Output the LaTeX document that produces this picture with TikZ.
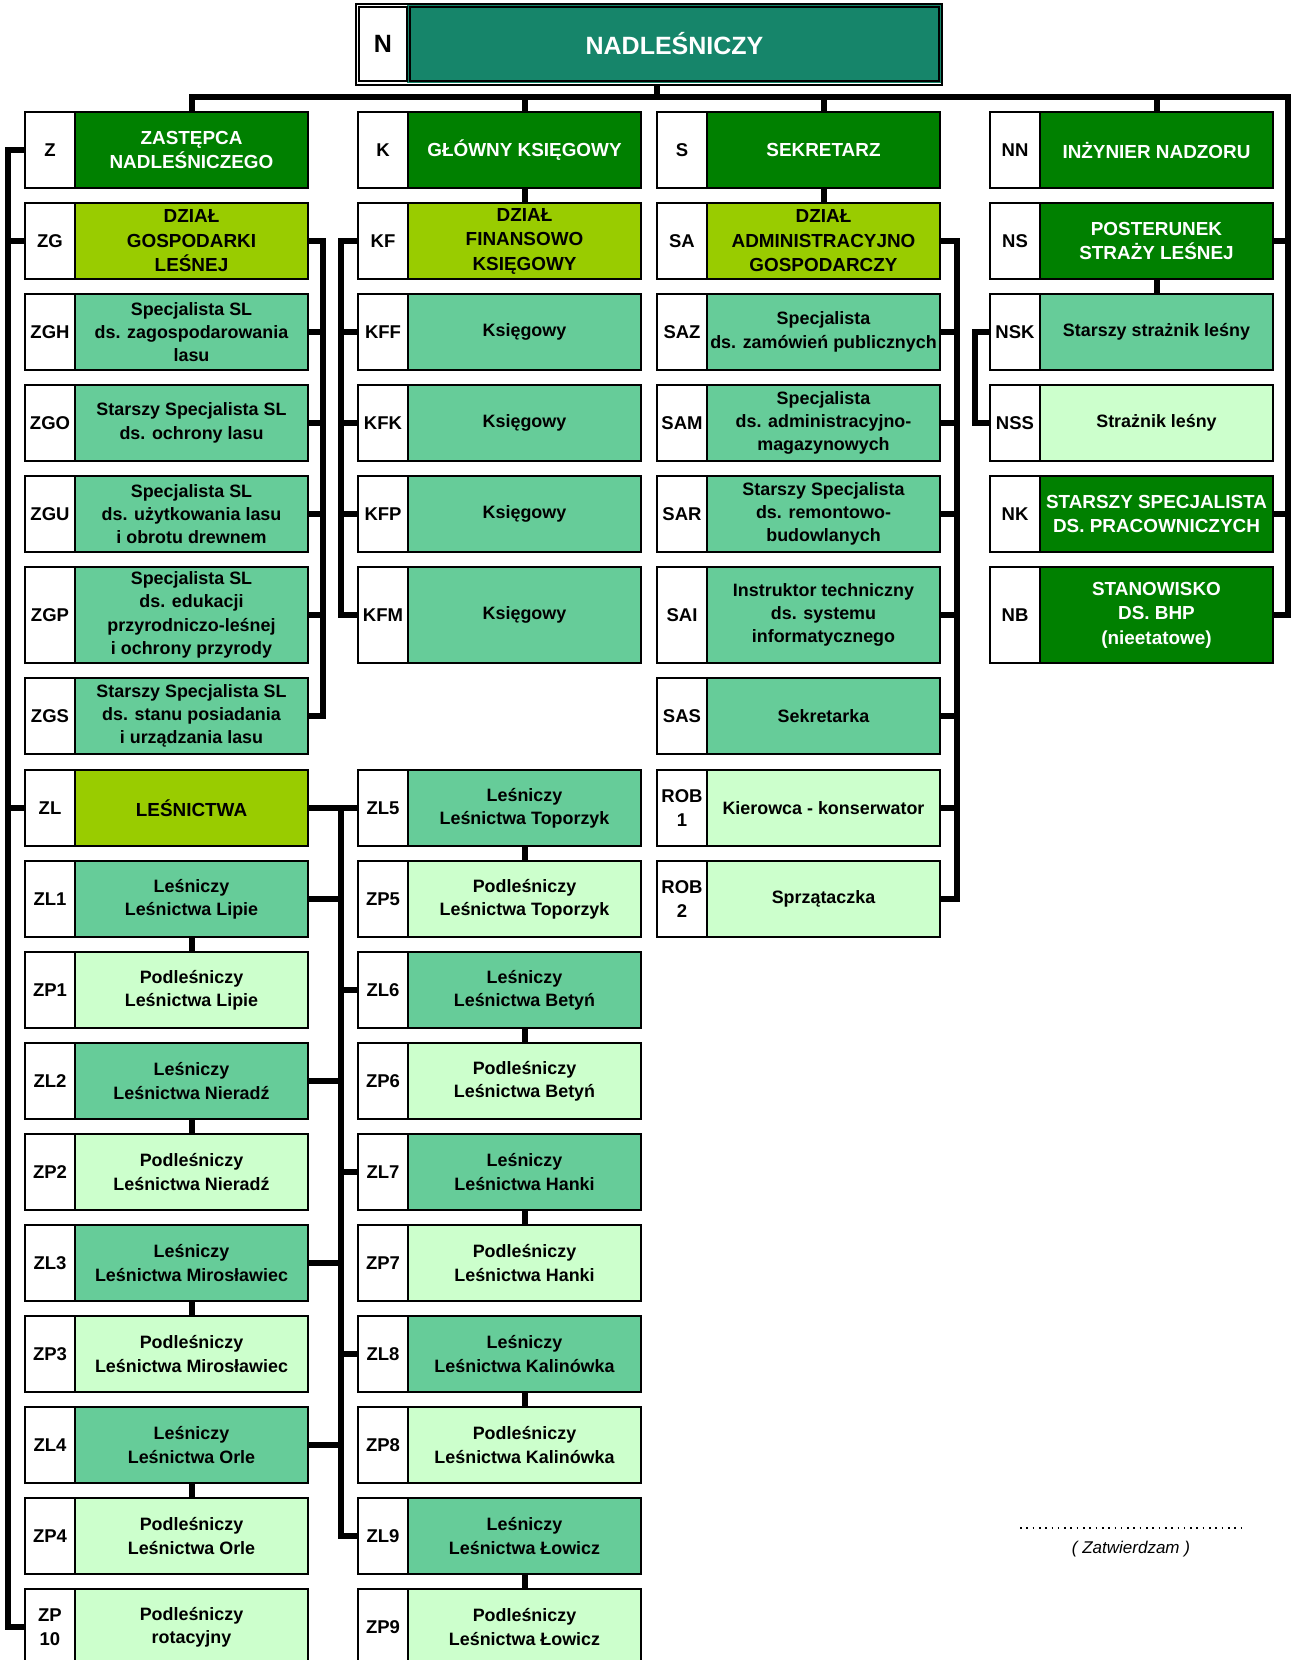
\documentclass[tikz,border=0pt]{standalone}
\usepackage{fontspec}
\setmainfont{Liberation Sans}
\definecolor{cdark}{RGB}{0,128,0}
\definecolor{clime}{RGB}{153,204,0}
\definecolor{cmed}{RGB}{102,204,153}
\definecolor{clight}{RGB}{204,255,204}
\definecolor{cteal}{RGB}{22,133,106}
\tikzset{
  box/.style={draw=black, line width=2.5, rectangle, inner sep=1, align=center,
    minimum width=233, font=\fontsize{17.9}{23.3}\selectfont\bfseries},
  codecell/.style={box, fill=white, minimum width=50, font=\fontsize{18.5}{24.4}\selectfont\bfseries},
  unitdark/.style={box, fill=cdark, text=white, font=\fontsize{18.9}{24.5}\selectfont\bfseries},
  unitlime/.style={box, fill=clime, font=\fontsize{18.9}{24.5}\selectfont\bfseries},
  unitmed/.style={box, fill=cmed},
  unitlight/.style={box, fill=clight},
  nframe/.style={draw=black, line width=2, rectangle, inner sep=0},
  conn/.style={draw=black, line width=6, line join=miter},
  dotline/.style={draw=black, line width=1.6, dash pattern=on 1.6 off 4.7},
  sigtext/.style={font=\fontsize{17}{20}\selectfont\itshape}
}
\newcommand{\orgunit}[7]{%
  \node[codecell, minimum height=#4] (#1c) at ({#2+25},{#3+#4/2}) {#6};
  \node[#5, minimum height=#4] (#1) at ({#2+166.5},{#3+#4/2}) {#7};
}
\begin{document}
\begin{tikzpicture}[x=1pt,y=-1pt]
\clip (0,0) rectangle (1293,1660);
\fill[white] (0,0) rectangle (1293,1660);

% helper coordinates
\coordinate (by) at (0,97);
\coordinate (rx) at (1288,0);
\coordinate (nx) at (657,0);
\coordinate (lx) at (8,0);
\coordinate (zgx) at (323,0);
\coordinate (kx) at (341,0);
\coordinate (sx) at (957,0);
\coordinate (nsx) at (975,0);

% top box
\node[nframe, minimum width=586.5, minimum height=81] (Nframe) at (648.75,44) {};
\fill[cteal] (407,5) rectangle (941,83);
\node[codecell, minimum width=48, minimum height=74, font=\fontsize{25}{30}\selectfont\bfseries] (Nc) at (383,44) {N};
\node[box, fill=cteal, text=white, minimum width=529, minimum height=74, font=\fontsize{25}{30}\selectfont\bfseries] (N) at (674.5,44) {NADLEŚNICZY};

% row 1
\orgunit{Z}{25}{112}{76}{unitdark}{Z}{ZASTĘPCA\\NADLEŚNICZEGO}
\orgunit{K}{358}{112}{76}{unitdark}{K}{GŁÓWNY KSIĘGOWY}
\orgunit{S}{657}{112}{76}{unitdark}{S}{SEKRETARZ}
\orgunit{NN}{990}{112}{76}{unitdark}{NN}{INŻYNIER NADZORU}
% row 2
\orgunit{ZG}{25}{203}{76}{unitlime}{ZG}{DZIAŁ\\GOSPODARKI\\LEŚNEJ}
\orgunit{KF}{358}{203}{76}{unitlime}{KF}{DZIAŁ\\FINANSOWO\\KSIĘGOWY}
\orgunit{SA}{657}{203}{76}{unitlime}{SA}{DZIAŁ\\ADMINISTRACYJNO\\GOSPODARCZY}
\orgunit{NS}{990}{203}{76}{unitdark}{NS}{POSTERUNEK\\STRAŻY LEŚNEJ}
% row 3
\orgunit{ZGH}{25}{294}{76}{unitmed}{ZGH}{Specjalista SL\\ds. zagospodarowania\\lasu}
\orgunit{KFF}{358}{294}{76}{unitmed}{KFF}{Księgowy}
\orgunit{SAZ}{657}{294}{76}{unitmed}{SAZ}{Specjalista\\ds. zamówień publicznych}
\orgunit{NSK}{990}{294}{76}{unitmed}{NSK}{Starszy strażnik leśny}
% row 4
\orgunit{ZGO}{25}{385}{76}{unitmed}{ZGO}{Starszy Specjalista SL\\ds. ochrony lasu}
\orgunit{KFK}{358}{385}{76}{unitmed}{KFK}{Księgowy}
\orgunit{SAM}{657}{385}{76}{unitmed}{SAM}{Specjalista\\ds. administracyjno-\\magazynowych}
\orgunit{NSS}{990}{385}{76}{unitlight}{NSS}{Strażnik leśny}
% row 5
\orgunit{ZGU}{25}{476}{76}{unitmed}{ZGU}{Specjalista SL\\ds. użytkowania lasu\\i obrotu drewnem}
\orgunit{KFP}{358}{476}{76}{unitmed}{KFP}{Księgowy}
\orgunit{SAR}{657}{476}{76}{unitmed}{SAR}{Starszy Specjalista\\ds. remontowo-\\budowlanych}
\orgunit{NK}{990}{476}{76}{unitdark}{NK}{STARSZY SPECJALISTA\\DS. PRACOWNICZYCH}
% row 6
\orgunit{ZGP}{25}{567}{96}{unitmed}{ZGP}{Specjalista SL\\ds. edukacji\\przyrodniczo-leśnej\\i ochrony przyrody}
\orgunit{KFM}{358}{567}{96}{unitmed}{KFM}{Księgowy}
\orgunit{SAI}{657}{567}{96}{unitmed}{SAI}{Instruktor techniczny\\ds. systemu\\informatycznego}
\orgunit{NB}{990}{567}{96}{unitdark}{NB}{STANOWISKO\\DS. BHP\\(nieetatowe)}
% row 7
\orgunit{ZGS}{25}{678}{76}{unitmed}{ZGS}{Starszy Specjalista SL\\ds. stanu posiadania\\i urządzania lasu}
\orgunit{SAS}{657}{678}{76}{unitmed}{SAS}{Sekretarka}
% row 8
\orgunit{ZL}{25}{770}{76}{unitlime}{ZL}{LEŚNICTWA}
\orgunit{ZL5}{358}{770}{76}{unitmed}{ZL5}{Leśniczy\\Leśnictwa Toporzyk}
\orgunit{ROB1}{657}{770}{76}{unitlight}{ROB\\1}{Kierowca - konserwator}
% row 9
\orgunit{ZL1}{25}{861}{76}{unitmed}{ZL1}{Leśniczy\\Leśnictwa Lipie}
\orgunit{ZP5}{358}{861}{76}{unitlight}{ZP5}{Podleśniczy\\Leśnictwa Toporzyk}
\orgunit{ROB2}{657}{861}{76}{unitlight}{ROB\\2}{Sprzątaczka}
% row 10
\orgunit{ZP1}{25}{952}{76}{unitlight}{ZP1}{Podleśniczy\\Leśnictwa Lipie}
\orgunit{ZL6}{358}{952}{76}{unitmed}{ZL6}{Leśniczy\\Leśnictwa Betyń}
% row 11
\orgunit{ZL2}{25}{1043}{76}{unitmed}{ZL2}{Leśniczy\\Leśnictwa Nieradź}
\orgunit{ZP6}{358}{1043}{76}{unitlight}{ZP6}{Podleśniczy\\Leśnictwa Betyń}
% row 12
\orgunit{ZP2}{25}{1134}{76}{unitlight}{ZP2}{Podleśniczy\\Leśnictwa Nieradź}
\orgunit{ZL7}{358}{1134}{76}{unitmed}{ZL7}{Leśniczy\\Leśnictwa Hanki}
% row 13
\orgunit{ZL3}{25}{1225}{76}{unitmed}{ZL3}{Leśniczy\\Leśnictwa Mirosławiec}
\orgunit{ZP7}{358}{1225}{76}{unitlight}{ZP7}{Podleśniczy\\Leśnictwa Hanki}
% row 14
\orgunit{ZP3}{25}{1316}{76}{unitlight}{ZP3}{Podleśniczy\\Leśnictwa Mirosławiec}
\orgunit{ZL8}{358}{1316}{76}{unitmed}{ZL8}{Leśniczy\\Leśnictwa Kalinówka}
% row 15
\orgunit{ZL4}{25}{1407}{76}{unitmed}{ZL4}{Leśniczy\\Leśnictwa Orle}
\orgunit{ZP8}{358}{1407}{76}{unitlight}{ZP8}{Podleśniczy\\Leśnictwa Kalinówka}
% row 16
\orgunit{ZP4}{25}{1498}{76}{unitlight}{ZP4}{Podleśniczy\\Leśnictwa Orle}
\orgunit{ZL9}{358}{1498}{76}{unitmed}{ZL9}{Leśniczy\\Leśnictwa Łowicz}
% row 17
\orgunit{ZP10}{25}{1589}{76}{unitlight}{ZP\\10}{Podleśniczy\\rotacyjny}
\orgunit{ZP9}{358}{1589}{76}{unitlight}{ZP9}{Podleśniczy\\Leśnictwa Łowicz}

% main bus
\draw[conn] (Z.north) -- (Z.north |- by) -- (by -| rx) -- (NB.east -| rx) -- (NB.east);
\draw[conn] (Nframe.south -| nx) -- (by -| nx);
\draw[conn] (K.north) -- (K.north |- by);
\draw[conn] (S.north) -- (S.north |- by);
\draw[conn] (NN.north) -- (NN.north |- by);
\draw[conn] (NS.east) -- (NS.east -| rx);
\draw[conn] (NK.east) -- (NK.east -| rx);

% vertical links
\draw[conn] (K.south) -- (KF.north);
\draw[conn] (S.south) -- (SA.north);
\draw[conn] (NS.south) -- (NSK.north);
\draw[conn] (ZL1.south) -- (ZP1.north);
\draw[conn] (ZL2.south) -- (ZP2.north);
\draw[conn] (ZL3.south) -- (ZP3.north);
\draw[conn] (ZL4.south) -- (ZP4.north);
\draw[conn] (ZL5.south) -- (ZP5.north);
\draw[conn] (ZL6.south) -- (ZP6.north);
\draw[conn] (ZL7.south) -- (ZP7.north);
\draw[conn] (ZL8.south) -- (ZP8.north);
\draw[conn] (ZL9.south) -- (ZP9.north);

% left line of the deputy
\draw[conn] (Zc.west) -- (Zc.west -| lx) -- (ZP10c.west -| lx) -- (ZP10c.west);
\draw[conn] (ZGc.west) -- (ZGc.west -| lx);
\draw[conn] (ZLc.west) -- (ZLc.west -| lx);

% ZG bracket
\draw[conn] (ZG.east) -- (ZG.east -| zgx) -- (ZGS.east -| zgx) -- (ZGS.east);
\draw[conn] (ZGH.east) -- (ZGH.east -| zgx);
\draw[conn] (ZGO.east) -- (ZGO.east -| zgx);
\draw[conn] (ZGU.east) -- (ZGU.east -| zgx);
\draw[conn] (ZGP.east) -- (ZGP.east -| zgx);

% KF bracket
\draw[conn] (KFc.west) -- (KFc.west -| kx) -- (KFMc.west -| kx) -- (KFMc.west);
\draw[conn] (KFFc.west) -- (KFFc.west -| kx);
\draw[conn] (KFKc.west) -- (KFKc.west -| kx);
\draw[conn] (KFPc.west) -- (KFPc.west -| kx);

% SA bracket
\draw[conn] (SA.east) -- (SA.east -| sx) -- (ROB2.east -| sx) -- (ROB2.east);
\draw[conn] (SAZ.east) -- (SAZ.east -| sx);
\draw[conn] (SAM.east) -- (SAM.east -| sx);
\draw[conn] (SAR.east) -- (SAR.east -| sx);
\draw[conn] (SAI.east) -- (SAI.east -| sx);
\draw[conn] (SAS.east) -- (SAS.east -| sx);
\draw[conn] (ROB1.east) -- (ROB1.east -| sx);

% NS bracket
\draw[conn] (NSKc.west) -- (NSKc.west -| nsx) -- (NSSc.west -| nsx) -- (NSSc.west);

% ZL bus
\draw[conn] (ZL.east) -- (ZL5c.west);
\draw[conn] (ZL.east -| kx) -- (ZL9c.west -| kx) -- (ZL9c.west);
\draw[conn] (ZL1.east) -- (ZL1.east -| kx);
\draw[conn] (ZL2.east) -- (ZL2.east -| kx);
\draw[conn] (ZL3.east) -- (ZL3.east -| kx);
\draw[conn] (ZL4.east) -- (ZL4.east -| kx);
\draw[conn] (ZL6c.west) -- (ZL6c.west -| kx);
\draw[conn] (ZL7c.west) -- (ZL7c.west -| kx);
\draw[conn] (ZL8c.west) -- (ZL8c.west -| kx);

% signature
\coordinate (sigl) at (1020,1528);
\coordinate (sigr) at (1244,1528);
\draw[dotline] (sigl) -- (sigr);
\node[sigtext] (sig) at (1131,1549) {( Zatwierdzam )};
\end{tikzpicture}
\end{document}
